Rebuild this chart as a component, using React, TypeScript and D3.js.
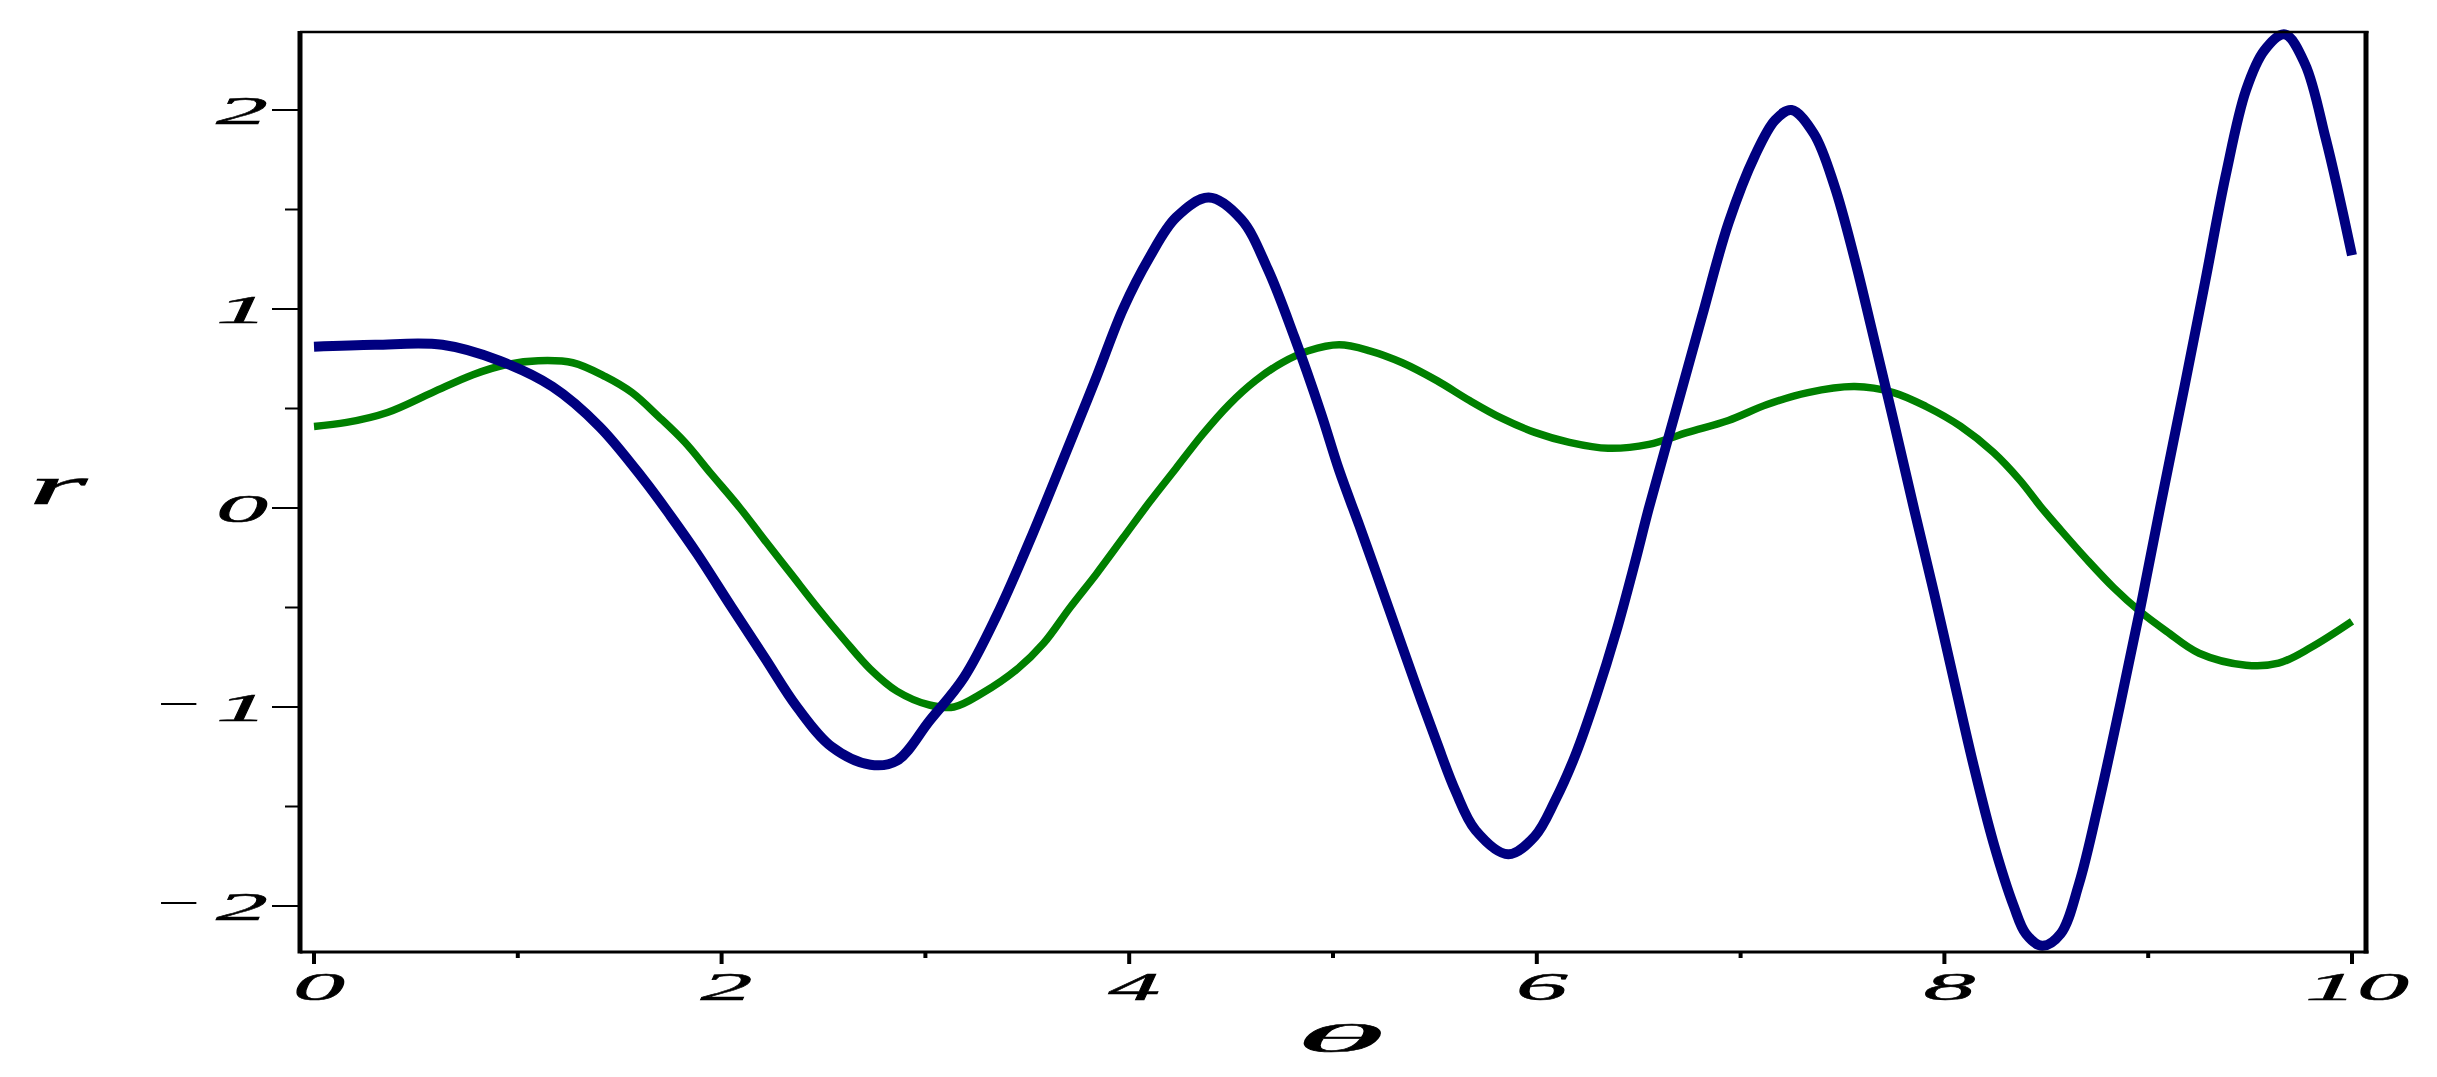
import React, { useEffect, useRef } from 'react';
import * as d3 from 'd3';

// values (theta, r)
const blueTheta = [
  0, 0.3, 0.63, 0.91, 1.17, 1.4, 1.62, 1.75, 1.88, 2.05, 2.21, 2.37, 2.54, 2.73, 2.86,
  3.02, 3.19, 3.35, 3.51, 3.71, 3.84, 3.97, 4.1, 4.23, 4.39, 4.55, 4.68, 4.81, 4.94,
  5.03, 5.13, 5.21, 5.31, 5.41, 5.51, 5.6, 5.7, 5.86, 5.99, 6.09, 6.19, 6.29, 6.39,
  6.48, 6.55, 6.68, 6.81, 6.94, 7.07, 7.17, 7.25, 7.36, 7.46, 7.56, 7.65, 7.75, 7.85,
  7.95, 8.05, 8.14, 8.24, 8.34, 8.4, 8.48, 8.57, 8.66, 8.76, 8.86, 8.96, 9.06, 9.18,
  9.28, 9.38, 9.48, 9.57, 9.67, 9.77, 9.87, 9.93, 10,
];
const blueR = [
  0.81, 0.82, 0.82, 0.74, 0.61, 0.41, 0.14, -0.04, -0.23, -0.5, -0.75, -1.0, -1.2, -1.29, -1.27,
  -1.07, -0.85, -0.54, -0.17, 0.33, 0.66, 1.0, 1.26, 1.46, 1.56, 1.45, 1.2, 0.86, 0.48,
  0.19, -0.09, -0.32, -0.61, -0.9, -1.18, -1.42, -1.62, -1.74, -1.65, -1.47, -1.24, -0.95, -0.62,
  -0.28, 0.0, 0.48, 0.96, 1.43, 1.77, 1.95, 2.0, 1.88, 1.62, 1.25, 0.87, 0.44, 0.0,
  -0.43, -0.88, -1.28, -1.68, -2.0, -2.14, -2.2, -2.14, -1.89, -1.47, -1.0, -0.51, 0.01, 0.62,
  1.14, 1.67, 2.1, 2.3, 2.38, 2.23, 1.86, 1.6, 1.27,
];
const greenTheta = [
  0, 0.16, 0.36, 0.58, 0.78, 0.94, 1.1, 1.27, 1.43, 1.56, 1.69, 1.82, 1.95, 2.09, 2.21,
  2.34, 2.47, 2.6, 2.73, 2.86, 3.02, 3.14, 3.28, 3.45, 3.58, 3.71, 3.84, 3.97, 4.1, 4.23,
  4.36, 4.49, 4.62, 4.75, 4.88, 5.03, 5.18, 5.34, 5.51, 5.67, 5.83, 5.99, 6.16, 6.35, 6.55,
  6.74, 6.94, 7.13, 7.33, 7.56, 7.75, 7.91, 8.08, 8.24, 8.37, 8.47, 8.57, 8.7, 8.83, 8.96,
  9.09, 9.25, 9.48, 9.64, 9.8, 10,
];
const greenR = [
  0.41, 0.43, 0.48, 0.58, 0.67, 0.72, 0.74, 0.73, 0.66, 0.58, 0.46, 0.33, 0.17, 0.0, -0.16,
  -0.33, -0.5, -0.66, -0.81, -0.92, -0.99, -1.0, -0.93, -0.81, -0.68, -0.5, -0.33, -0.15, 0.03, 0.2,
  0.37, 0.52, 0.64, 0.73, 0.79, 0.82, 0.79, 0.73, 0.64, 0.54, 0.45, 0.38, 0.33, 0.3, 0.32,
  0.38, 0.44, 0.52, 0.58, 0.61, 0.58, 0.51, 0.41, 0.28, 0.14, 0.01, -0.11, -0.26, -0.4, -0.52,
  -0.62, -0.73, -0.79, -0.78, -0.7, -0.57,
];
const xMajorTicks = [0, 2, 4, 6, 8, 10];
const xMinorTicks = [1, 3, 5, 7, 9];
const yMajorTicks = [-2, -1, 0, 1, 2];
const yMinorTicks = [-1.5, -0.5, 0.5, 1.5];
const xLabel = 'θ';
const yLabel = 'r';

const FONT = '"Liberation Serif", "DejaVu Serif", serif';

const App = () => {
  const ref = useRef<SVGSVGElement | null>(null);

  useEffect(() => {
    const svg = d3.select(ref.current);
    svg.selectAll('*').remove();

    const x = d3.scaleLinear().domain([0, 10]).range([314, 2352]);
    const y = d3.scaleLinear().domain([-2, 2]).range([906, 110]);
    const frame = { left: 300, right: 2366, top: 32, bottom: 952 };

    // curves
    const line = d3
      .line<[number, number]>()
      .x((d) => x(d[0]))
      .y((d) => y(d[1]))
      .curve(d3.curveCatmullRom.alpha(0.5));

    const green = greenTheta.map((t, i) => [t, greenR[i]] as [number, number]);
    const blue = blueTheta.map((t, i) => [t, blueR[i]] as [number, number]);

    svg
      .append('path')
      .attr('d', line(green))
      .attr('fill', 'none')
      .attr('stroke', '#008000')
      .attr('stroke-width', 7.5)
      .attr('stroke-linejoin', 'round');

    svg
      .append('path')
      .attr('d', line(blue))
      .attr('fill', 'none')
      .attr('stroke', '#000080')
      .attr('stroke-width', 10)
      .attr('stroke-linejoin', 'round');

    // box
    const box = svg.append('g').attr('stroke', '#000');
    box.append('line').attr('x1', frame.left).attr('x2', frame.left)
      .attr('y1', frame.top - 1).attr('y2', frame.bottom + 1.5).attr('stroke-width', 5);
    box.append('line').attr('x1', frame.right).attr('x2', frame.right)
      .attr('y1', frame.top - 1).attr('y2', frame.bottom + 1.5).attr('stroke-width', 5);
    box.append('line').attr('x1', frame.left).attr('x2', frame.right + 2.5)
      .attr('y1', frame.top).attr('y2', frame.top).attr('stroke-width', 2.5);
    box.append('line').attr('x1', frame.left).attr('x2', frame.right + 2.5)
      .attr('y1', frame.bottom).attr('y2', frame.bottom).attr('stroke-width', 3);

    // y ticks
    const yTicks = svg.append('g').attr('stroke', '#000').attr('stroke-width', 2);
    yTicks.selectAll('.maj').data(yMajorTicks).enter().append('line')
      .attr('x1', frame.left - 28).attr('x2', frame.left)
      .attr('y1', (d) => y(d)).attr('y2', (d) => y(d));
    yTicks.selectAll('.min').data(yMinorTicks).enter().append('line')
      .attr('x1', frame.left - 15).attr('x2', frame.left)
      .attr('y1', (d) => y(d)).attr('y2', (d) => y(d));

    // x ticks
    const xTicks = svg.append('g').attr('stroke', '#000').attr('stroke-width', 4);
    xTicks.selectAll('.maj').data(xMajorTicks).enter().append('line')
      .attr('x1', (d) => x(d)).attr('x2', (d) => x(d))
      .attr('y1', frame.bottom).attr('y2', frame.bottom + 12);
    xTicks.selectAll('.min').data(xMinorTicks).enter().append('line')
      .attr('x1', (d) => x(d)).attr('x2', (d) => x(d))
      .attr('y1', frame.bottom).attr('y2', frame.bottom + 6);

    // tick labels (stretched wide like the original)
    const labels = svg.append('g')
      .attr('font-family', FONT)
      .attr('font-style', 'italic')
      .attr('fill', '#000')
      .attr('stroke', '#000')
      .attr('stroke-width', 0.5);

    yMajorTicks.forEach((v) => {
      labels.append('text')
        .attr('transform', `translate(268,${y(v) + 14}) scale(2.6,1)`)
        .attr('text-anchor', 'end')
        .attr('font-size', 40)
        .text(String(Math.abs(v)));
      if (v < 0) {
        labels.append('text')
          .attr('transform', `translate(200,${y(v) + 10}) scale(1.9,1)`)
          .attr('text-anchor', 'end')
          .attr('font-size', 40)
          .attr('font-style', 'normal')
          .attr('stroke-width', 0)
          .text('−');
      }
    });

    xMajorTicks.forEach((v) => {
      labels.append('text')
        .attr('transform', `translate(${x(v) + 5},1000) scale(2.6,1)`)
        .attr('text-anchor', 'middle')
        .attr('font-size', 40)
        .text(String(v));
    });

    // axis labels
    labels.append('text')
      .attr('transform', `translate(1340,1052) scale(4.6,1)`)
      .attr('text-anchor', 'middle')
      .attr('font-size', 39)
      .text(xLabel);
    labels.append('text')
      .attr('transform', `translate(58,504) scale(2.8,1)`)
      .attr('text-anchor', 'middle')
      .attr('font-size', 54)
      .text(yLabel);
  }, []);

  return (
    <svg
      ref={ref}
      width={2437}
      height={1077}
      style={{ position: 'absolute', left: 0, top: 0, background: '#fff', display: 'block' }}
    />
  );
};

export default App;
